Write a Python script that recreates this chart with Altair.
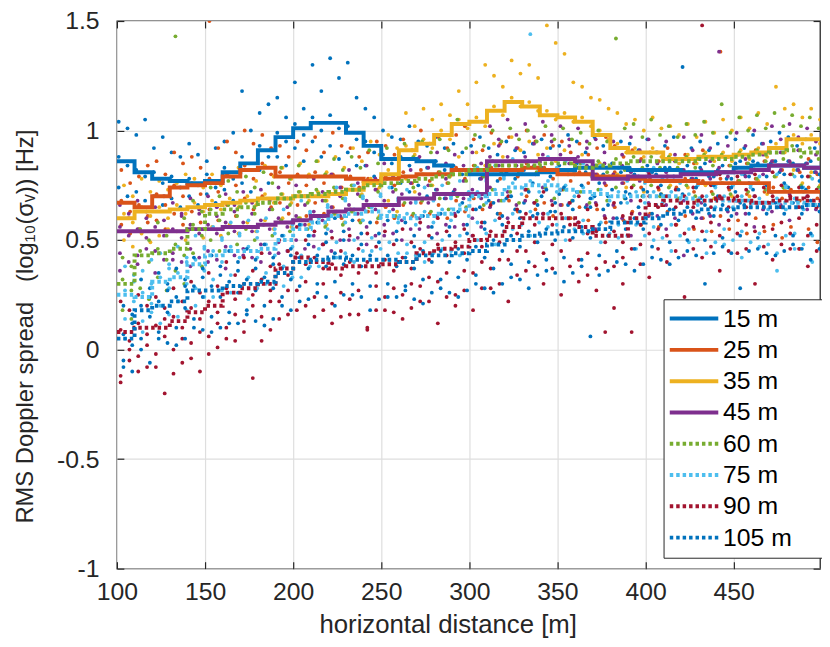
import altair as alt
import pandas as pd

SERIES = ["15 m", "25 m", "35 m", "45 m", "60 m", "75 m", "90 m", "105 m"]
COLORS = ["#0072BD", "#D95319", "#EDB120", "#7E2F8E", "#77AC30", "#4DBEEE", "#A2142F", "#0072BD"]
DASHES = [[1, 0]] * 4 + [[3.5, 3]] * 4

X_TICKS = [100, 150, 200, 250, 300, 350, 400, 450]
Y_TICKS = [-1, -0.5, 0, 0.5, 1, 1.5]

# step-line (binned) values, one per 10 m bin starting at 100 m
BIN_X = list(range(100, 500, 10))
X_END = 499
LINE_15 = [0.86, 0.81, 0.78, 0.77, 0.76, 0.77, 0.81, 0.85, 0.91, 0.97, 1.01, 1.035, 1.035, 0.99, 0.93, 0.87, 0.87, 0.86, 0.84, 0.82,
           0.80, 0.80, 0.80, 0.80, 0.81, 0.82, 0.83, 0.83, 0.83, 0.82, 0.82, 0.82, 0.81, 0.81, 0.81, 0.83, 0.84, 0.84, 0.84, 0.83]
LINE_25 = [0.67, 0.65, 0.70, 0.74, 0.75, 0.76, 0.79, 0.82, 0.83, 0.79, 0.79, 0.79, 0.79, 0.78, 0.77, 0.78, 0.79, 0.80, 0.80, 0.82,
           0.82, 0.82, 0.82, 0.83, 0.82, 0.80, 0.80, 0.79, 0.79, 0.78, 0.77, 0.77, 0.77, 0.76, 0.76, 0.76, 0.76, 0.72, 0.72, 0.72]
LINE_35 = [0.60, 0.63, 0.63, 0.64, 0.65, 0.66, 0.67, 0.68, 0.69, 0.69, 0.70, 0.70, 0.71, 0.73, 0.76, 0.80, 0.91, 0.94, 0.98, 1.03,
           1.04, 1.09, 1.13, 1.11, 1.07, 1.06, 1.04, 0.98, 0.92, 0.90, 0.90, 0.87, 0.87, 0.88, 0.88, 0.89, 0.90, 0.92, 0.96, 0.96]
LINE_45 = [0.54, 0.54, 0.54, 0.54, 0.55, 0.55, 0.56, 0.56, 0.57, 0.58, 0.59, 0.61, 0.63, 0.64, 0.66, 0.66, 0.69, 0.69, 0.71, 0.71,
           0.71, 0.86, 0.86, 0.86, 0.87, 0.87, 0.86, 0.78, 0.78, 0.79, 0.79, 0.79, 0.80, 0.80, 0.81, 0.81, 0.82, 0.84, 0.84, 0.83]
LINE_60 = [0.30, 0.43, 0.44, 0.46, 0.55, 0.62, 0.64, 0.65, 0.67, 0.69, 0.70, 0.71, 0.72, 0.73, 0.75, 0.76, 0.77, 0.78, 0.79, 0.80,
           0.82, 0.84, 0.84, 0.84, 0.85, 0.85, 0.83, 0.84, 0.85, 0.86, 0.86, 0.86, 0.86, 0.87, 0.87, 0.88, 0.89, 0.90, 0.91, 0.90]
LINE_75 = [0.25, 0.24, 0.31, 0.33, 0.39, 0.43, 0.45, 0.45, 0.46, 0.50, 0.55, 0.58, 0.61, 0.62, 0.63, 0.61, 0.60, 0.61, 0.62, 0.64,
           0.70, 0.71, 0.74, 0.75, 0.75, 0.73, 0.72, 0.71, 0.70, 0.70, 0.70, 0.70, 0.69, 0.68, 0.68, 0.68, 0.67, 0.67, 0.67, 0.66]
LINE_90 = [0.08, 0.10, 0.10, 0.13, 0.17, 0.20, 0.26, 0.28, 0.30, 0.37, 0.42, 0.40, 0.37, 0.38, 0.38, 0.39, 0.40, 0.44, 0.46, 0.47,
           0.50, 0.52, 0.56, 0.60, 0.60, 0.60, 0.56, 0.52, 0.52, 0.60, 0.66, 0.68, 0.67, 0.68, 0.69, 0.68, 0.67, 0.68, 0.69, 0.68]
LINE_105 = [0.05, 0.18, 0.20, 0.22, 0.27, 0.27, 0.29, 0.30, 0.31, 0.35, 0.40, 0.41, 0.42, 0.41, 0.41, 0.41, 0.40, 0.43, 0.43, 0.44,
            0.45, 0.48, 0.50, 0.52, 0.53, 0.54, 0.54, 0.55, 0.58, 0.58, 0.60, 0.62, 0.63, 0.64, 0.64, 0.65, 0.65, 0.65, 0.65, 0.66]

# scatter samples: columns every 5 m, several samples per column
SCATTER_X = list(range(101, 500, 5))
X_SHIFT = [0, 1.5, 3.0, 0.7, 2.2, 3.6, 1.1, 2.7]

HI_15 = [1.04, 1.01, 0.98, 1.05, 0.92, 0.97, 0.90, 0.88, 0.94, 0.89,
         0.86, 0.92, 0.95, 0.99, 1.18, 1.00, 1.08, 1.12, 1.15, 1.06,
         1.22, 1.10, 1.30, 1.18, 1.33, 1.24, 1.31, 1.15, 1.10, 1.06,
         1.00, 0.97, 0.96, 1.02, 0.95, 0.93, 0.97, 0.92, 0.94, 0.90,
         0.93, 0.97, 0.92, 0.89, 0.95, 0.91, 0.90, 0.94, 0.96, 0.92,
         0.93, 0.98, 0.95, 0.90, 0.97, 0.93, 0.92, 0.95, 0.94, 0.91,
         0.96, 0.90, 0.93, 0.97, 1.29, 0.92, 0.95, 0.91, 0.94, 0.97,
         0.96, 0.92, 0.98, 0.94, 0.95, 0.99, 0.97, 0.93, 0.96, 0.92]
MID_15 = [0.88, 0.84, 0.82, 0.79, 0.81, 0.76, 0.79, 0.74, 0.78, 0.75,
          0.80, 0.74, 0.83, 0.78, 0.88, 0.82, 0.93, 0.88, 0.99, 0.95,
          1.03, 0.98, 1.06, 1.00, 1.07, 1.01, 1.02, 0.96, 0.95, 0.90,
          0.89, 0.85, 0.88, 0.84, 0.87, 0.83, 0.86, 0.82, 0.84, 0.80,
          0.82, 0.78, 0.83, 0.77, 0.81, 0.78, 0.82, 0.76, 0.83, 0.79,
          0.84, 0.80, 0.85, 0.81, 0.84, 0.80, 0.85, 0.81, 0.83, 0.79,
          0.84, 0.80, 0.83, 0.79, 0.82, 0.78, 0.83, 0.79, 0.82, 0.78,
          0.85, 0.80, 0.86, 0.82, 0.85, 0.81, 0.86, 0.82, 0.85, 0.81]
LO_15 = [0.74, 0.70, 0.72, 0.68, 0.70, 0.66, 0.69, 0.65, 0.70, 0.66,
         0.71, 0.67, 0.73, 0.68, 0.76, 0.72, 0.82, 0.76, 0.88, 0.84,
         0.92, 0.86, 0.95, 0.88, 0.93, 0.87, 0.90, 0.84, 0.84, 0.79,
         0.78, 0.74, 0.76, 0.72, 0.75, 0.70, 0.73, 0.69, 0.72, 0.67,
         0.70, 0.65, 0.68, 0.62, 0.69, 0.64, 0.67, 0.61, 0.70, 0.63,
         0.71, 0.66, 0.72, 0.65, 0.70, 0.64, 0.73, 0.67, 0.71, 0.65,
         0.72, 0.66, 0.70, 0.64, 0.71, 0.63, 0.69, 0.62, 0.70, 0.64,
         0.72, 0.66, 0.73, 0.67, 0.72, 0.65, 0.74, 0.68, 0.73, 0.66]

HI_25 = [0.82, 0.76, 0.79, 0.84, 0.86, 0.80, 0.90, 0.85, 0.88, 0.83,
         1.50, 0.92, 0.95, 0.90, 1.00, 0.94, 0.98, 0.92, 0.93, 0.88,
         0.95, 0.91, 0.97, 0.90, 0.99, 0.93, 0.92, 0.88, 0.90, 0.95,
         0.93, 0.89, 0.96, 0.91, 1.00, 0.94, 0.97, 0.92, 0.98, 1.02,
         0.96, 0.91, 0.99, 0.94, 0.97, 0.92, 1.00, 0.95, 0.98, 0.93,
         0.95, 0.90, 0.94, 0.89, 0.92, 0.97, 0.93, 0.88, 0.91, 0.87,
         0.90, 0.86, 0.92, 0.87, 0.89, 0.85, 0.91, 0.88, 1.36, 0.84,
         0.89, 0.85, 0.91, 0.86, 0.86, 0.82, 0.85, 0.81, 0.87, 0.80]
MID_25 = [0.68, 0.63, 0.66, 0.61, 0.71, 0.66, 0.75, 0.70, 0.76, 0.71,
          0.78, 0.72, 0.80, 0.75, 0.84, 0.78, 0.85, 0.80, 0.81, 0.76,
          0.80, 0.75, 0.81, 0.76, 0.80, 0.74, 0.79, 0.74, 0.78, 0.73,
          0.79, 0.75, 0.81, 0.76, 0.82, 0.77, 0.81, 0.76, 0.83, 0.78,
          0.84, 0.79, 0.83, 0.78, 0.84, 0.79, 0.85, 0.80, 0.83, 0.78,
          0.82, 0.77, 0.81, 0.76, 0.80, 0.75, 0.81, 0.76, 0.79, 0.74,
          0.78, 0.73, 0.79, 0.74, 0.78, 0.72, 0.77, 0.72, 0.78, 0.73,
          0.77, 0.71, 0.78, 0.72, 0.74, 0.69, 0.73, 0.68, 0.74, 0.69]
LO_25 = [0.57, 0.53, 0.55, 0.58, 0.59, 0.55, 0.62, 0.57, 0.63, 0.58,
         0.64, 0.59, 0.66, 0.61, 0.69, 0.64, 0.70, 0.65, 0.67, 0.62,
         0.66, 0.61, 0.67, 0.62, 0.65, 0.60, 0.64, 0.59, 0.63, 0.58,
         0.65, 0.60, 0.66, 0.61, 0.67, 0.62, 0.66, 0.60, 0.68, 0.63,
         0.69, 0.64, 0.67, 0.62, 0.68, 0.63, 0.70, 0.64, 0.67, 0.61,
         0.66, 0.60, 0.65, 0.59, 0.64, 0.58, 0.65, 0.59, 0.63, 0.57,
         0.62, 0.56, 0.63, 0.57, 0.61, 0.55, 0.60, 0.54, 0.61, 0.55,
         0.59, 0.53, 0.60, 0.54, 0.57, 0.51, 0.56, 0.46, 0.55, 0.49]

HI_35 = [0.75, 0.70, 0.78, 0.72, 0.77, 0.73, 0.76, 0.80, 0.78, 0.74,
         0.80, 0.75, 0.79, 0.83, 0.82, 0.77, 0.84, 0.79, 0.83, 0.78,
         0.85, 0.80, 0.86, 0.81, 0.88, 0.83, 0.92, 0.86, 0.95, 0.89,
         0.98, 0.92, 1.08, 1.02, 1.10, 1.05, 1.12, 1.07, 1.18, 1.12,
         1.22, 1.30, 1.25, 1.20, 1.32, 1.26, 1.30, 1.24, 1.48, 1.40,
         1.35, 1.22, 1.20, 1.15, 1.14, 1.10, 1.08, 1.03, 1.05, 1.00,
         1.06, 1.01, 1.02, 0.98, 1.03, 0.97, 1.04, 0.99, 1.05, 1.00,
         1.06, 1.01, 1.08, 1.03, 1.20, 1.10, 1.12, 1.06, 1.10, 1.05]
MID_35 = [0.62, 0.58, 0.65, 0.61, 0.65, 0.60, 0.66, 0.62, 0.67, 0.63,
          0.68, 0.64, 0.69, 0.65, 0.70, 0.66, 0.71, 0.67, 0.71, 0.67,
          0.72, 0.68, 0.72, 0.68, 0.73, 0.69, 0.75, 0.71, 0.78, 0.74,
          0.82, 0.78, 0.93, 0.89, 0.96, 0.92, 1.00, 0.96, 1.05, 1.01,
          1.06, 1.02, 1.11, 1.07, 1.15, 1.11, 1.13, 1.09, 1.09, 1.05,
          1.08, 1.04, 1.06, 1.02, 1.00, 0.96, 0.94, 0.90, 0.92, 0.88,
          0.92, 0.88, 0.89, 0.85, 0.89, 0.85, 0.90, 0.86, 0.90, 0.86,
          0.91, 0.87, 0.92, 0.88, 0.94, 0.90, 0.98, 0.94, 0.98, 0.94]
LO_35 = [0.50, 0.47, 0.53, 0.49, 0.52, 0.55, 0.54, 0.50, 0.55, 0.51,
         0.56, 0.52, 0.57, 0.53, 0.58, 0.54, 0.59, 0.55, 0.60, 0.56,
         0.60, 0.57, 0.61, 0.57, 0.62, 0.58, 0.63, 0.59, 0.65, 0.61,
         0.68, 0.63, 0.78, 0.72, 0.80, 0.75, 0.84, 0.79, 0.88, 0.82,
         0.90, 0.84, 0.94, 0.88, 0.97, 0.91, 0.95, 0.89, 0.92, 0.86,
         0.91, 0.85, 0.89, 0.83, 0.85, 0.79, 0.80, 0.74, 0.78, 0.72,
         0.77, 0.71, 0.75, 0.69, 0.74, 0.68, 0.75, 0.69, 0.76, 0.70,
         0.76, 0.70, 0.77, 0.71, 0.79, 0.73, 0.82, 0.76, 0.81, 0.75]

HI_45 = [0.66, 0.62, 0.68, 0.63, 0.65, 0.70, 0.67, 0.62, 0.69, 0.64,
         0.70, 0.65, 0.71, 0.66, 0.72, 0.67, 0.73, 0.68, 0.74, 0.69,
         0.75, 0.70, 0.78, 0.72, 0.80, 0.74, 0.82, 0.76, 0.84, 0.78,
         0.85, 0.79, 0.87, 0.82, 0.88, 0.83, 0.90, 0.85, 0.89, 0.84,
         0.90, 0.85, 1.02, 0.96, 1.05, 0.98, 1.03, 0.97, 1.04, 0.98,
         1.02, 0.96, 1.01, 0.95, 0.96, 0.90, 0.95, 0.89, 0.97, 0.91,
         0.96, 0.90, 0.95, 0.89, 0.97, 0.91, 0.98, 0.92, 1.36, 0.93,
         0.99, 0.93, 1.00, 0.94, 1.02, 0.96, 1.03, 0.97, 1.01, 0.95]
MID_45 = [0.56, 0.52, 0.55, 0.51, 0.56, 0.52, 0.55, 0.51, 0.57, 0.53,
          0.57, 0.53, 0.58, 0.54, 0.58, 0.54, 0.59, 0.55, 0.60, 0.56,
          0.61, 0.57, 0.63, 0.59, 0.65, 0.61, 0.66, 0.62, 0.68, 0.64,
          0.68, 0.64, 0.71, 0.67, 0.71, 0.67, 0.73, 0.69, 0.73, 0.69,
          0.73, 0.69, 0.88, 0.84, 0.88, 0.84, 0.88, 0.84, 0.89, 0.85,
          0.89, 0.85, 0.88, 0.84, 0.80, 0.76, 0.80, 0.76, 0.81, 0.77,
          0.81, 0.77, 0.81, 0.77, 0.82, 0.78, 0.82, 0.78, 0.83, 0.79,
          0.83, 0.79, 0.84, 0.80, 0.86, 0.82, 0.86, 0.82, 0.85, 0.81]
LO_45 = [0.44, 0.40, 0.43, 0.46, 0.45, 0.41, 0.44, 0.40, 0.46, 0.42,
         0.45, 0.41, 0.47, 0.43, 0.46, 0.42, 0.48, 0.44, 0.49, 0.45,
         0.50, 0.46, 0.52, 0.48, 0.54, 0.50, 0.55, 0.51, 0.56, 0.52,
         0.57, 0.53, 0.59, 0.55, 0.60, 0.56, 0.61, 0.57, 0.62, 0.57,
         0.60, 0.56, 0.74, 0.68, 0.72, 0.66, 0.73, 0.67, 0.74, 0.68,
         0.73, 0.67, 0.72, 0.66, 0.67, 0.61, 0.66, 0.60, 0.68, 0.62,
         0.67, 0.61, 0.66, 0.60, 0.68, 0.62, 0.67, 0.61, 0.69, 0.63,
         0.68, 0.62, 0.70, 0.64, 0.72, 0.66, 0.71, 0.65, 0.70, 0.64]
EX_45 = [0.36, 0.60, 0.39, 0.60, 0.35, 0.59, 0.41, 0.61, 0.38, 0.62,
         0.40, 0.61, 0.37, 0.63, 0.43, 0.62, 0.40, 0.64, 0.44, 0.65,
         0.42, 0.66, 0.47, 0.68, 0.45, 0.70, 0.50, 0.71, 0.48, 0.73,
         0.52, 0.72, 0.50, 0.76, 0.55, 0.75, 0.53, 0.78, 0.56, 0.77,
         0.52, 0.78, 0.65, 0.93, 0.60, 0.92, 0.68, 0.94, 0.62, 0.95,
         0.66, 0.93, 0.58, 0.92, 0.55, 0.85, 0.60, 0.84, 0.52, 0.86,
         0.61, 0.85, 0.55, 0.86, 0.43, 0.87, 0.60, 0.86, 0.57, 0.88,
         0.62, 0.87, 0.56, 0.89, 0.63, 0.90, 0.59, 0.91, 0.64, 0.89]

HI_60 = [0.42, 0.38, 0.55, 0.50, 0.58, 0.52, 1.43, 0.60, 0.68, 0.63,
         0.74, 0.70, 0.77, 0.72, 0.79, 0.74, 0.81, 0.76, 0.83, 0.78,
         0.84, 0.79, 0.86, 0.80, 0.87, 0.82, 0.88, 0.83, 0.91, 0.85,
         0.92, 0.87, 0.94, 0.88, 0.95, 0.90, 0.96, 0.91, 1.05, 0.92,
         0.98, 0.93, 1.00, 0.95, 1.01, 0.96, 1.00, 0.95, 1.02, 0.96,
         1.01, 0.96, 0.99, 0.94, 1.00, 0.95, 1.42, 1.01, 1.03, 0.97,
         1.05, 0.98, 1.02, 0.97, 1.03, 0.98, 1.04, 0.99, 1.12, 0.99,
         1.06, 1.00, 1.07, 1.01, 1.08, 1.02, 1.07, 1.02, 1.06, 1.01]
MID_60 = [0.32, 0.27, 0.45, 0.40, 0.46, 0.41, 0.48, 0.43, 0.57, 0.52,
          0.64, 0.59, 0.66, 0.61, 0.67, 0.62, 0.69, 0.64, 0.71, 0.66,
          0.72, 0.67, 0.73, 0.68, 0.74, 0.69, 0.75, 0.70, 0.77, 0.72,
          0.78, 0.73, 0.79, 0.74, 0.80, 0.75, 0.81, 0.76, 0.82, 0.77,
          0.84, 0.79, 0.86, 0.81, 0.86, 0.81, 0.86, 0.81, 0.87, 0.82,
          0.87, 0.82, 0.85, 0.80, 0.86, 0.81, 0.87, 0.82, 0.88, 0.83,
          0.88, 0.83, 0.88, 0.83, 0.88, 0.83, 0.89, 0.84, 0.89, 0.84,
          0.90, 0.85, 0.91, 0.86, 0.92, 0.87, 0.93, 0.88, 0.92, 0.87]
LO_60 = [0.18, 0.14, 0.28, 0.23, 0.33, 0.27, 0.36, 0.30, 0.44, 0.38,
         0.50, 0.45, 0.53, 0.48, 0.55, 0.50, 0.57, 0.52, 0.59, 0.54,
         0.60, 0.55, 0.61, 0.56, 0.62, 0.57, 0.63, 0.58, 0.65, 0.60,
         0.66, 0.61, 0.67, 0.62, 0.68, 0.63, 0.69, 0.64, 0.70, 0.65,
         0.71, 0.66, 0.73, 0.68, 0.72, 0.67, 0.73, 0.68, 0.74, 0.69,
         0.73, 0.68, 0.72, 0.67, 0.73, 0.68, 0.74, 0.69, 0.75, 0.70,
         0.75, 0.70, 0.74, 0.69, 0.75, 0.70, 0.76, 0.71, 0.76, 0.71,
         0.77, 0.72, 0.78, 0.73, 0.79, 0.74, 0.80, 0.75, 0.79, 0.74]

HI_75 = [0.38, 0.34, 0.36, 0.41, 0.44, 0.39, 0.47, 0.42, 0.52, 0.47,
         0.56, 0.51, 0.58, 0.53, 0.59, 0.54, 0.60, 0.55, 0.64, 0.59,
         0.68, 0.63, 0.71, 0.66, 0.74, 0.69, 0.75, 0.70, 0.76, 0.71,
         0.74, 0.69, 0.73, 0.68, 0.74, 0.69, 0.75, 0.70, 0.77, 0.72,
         0.83, 0.78, 0.84, 0.79, 0.87, 0.82, 1.44, 0.83, 0.88, 0.83,
         0.86, 0.81, 0.85, 0.80, 0.84, 0.79, 0.83, 0.78, 0.82, 0.77,
         0.83, 0.78, 0.82, 0.77, 0.81, 0.76, 0.80, 0.75, 0.81, 0.76,
         0.80, 0.75, 0.79, 0.74, 0.80, 0.75, 0.79, 0.74, 0.78, 0.73]
MID_75 = [0.27, 0.22, 0.26, 0.21, 0.33, 0.28, 0.35, 0.30, 0.41, 0.36,
          0.45, 0.40, 0.47, 0.42, 0.47, 0.42, 0.48, 0.43, 0.52, 0.47,
          0.57, 0.52, 0.60, 0.55, 0.63, 0.58, 0.64, 0.59, 0.65, 0.60,
          0.63, 0.58, 0.62, 0.57, 0.63, 0.58, 0.64, 0.59, 0.66, 0.61,
          0.72, 0.67, 0.73, 0.68, 0.76, 0.71, 0.77, 0.72, 0.77, 0.72,
          0.75, 0.70, 0.74, 0.69, 0.73, 0.68, 0.72, 0.67, 0.72, 0.67,
          0.72, 0.67, 0.72, 0.67, 0.71, 0.66, 0.70, 0.65, 0.70, 0.65,
          0.70, 0.65, 0.69, 0.64, 0.69, 0.64, 0.69, 0.64, 0.68, 0.63]
LO_75 = [0.14, 0.10, 0.13, 0.17, 0.20, 0.16, 0.22, 0.18, 0.28, 0.24,
         0.32, 0.27, 0.34, 0.29, 0.33, 0.28, 0.35, 0.30, 0.38, 0.33,
         0.43, 0.38, 0.46, 0.41, 0.49, 0.44, 0.50, 0.45, 0.51, 0.46,
         0.49, 0.44, 0.48, 0.43, 0.49, 0.44, 0.50, 0.45, 0.52, 0.47,
         0.58, 0.53, 0.59, 0.54, 0.62, 0.57, 0.63, 0.58, 0.62, 0.57,
         0.60, 0.55, 0.59, 0.54, 0.58, 0.53, 0.57, 0.52, 0.57, 0.52,
         0.56, 0.51, 0.57, 0.52, 0.55, 0.50, 0.54, 0.49, 0.55, 0.50,
         0.54, 0.49, 0.53, 0.48, 0.44, 0.52, 0.53, 0.48, 0.52, 0.47]
EX_75 = [0.05, 0.31, 0.08, 0.30, 0.12, 0.37, 0.15, 0.40, 0.20, 0.46,
         0.24, 0.50, 0.26, 0.52, 0.23, 0.51, 0.30, 0.53, 0.29, 0.57,
         0.33, 0.62, 0.38, 0.65, 0.42, 0.68, 0.40, 0.69, 0.45, 0.70,
         0.41, 0.68, 0.44, 0.67, 0.40, 0.68, 0.46, 0.69, 0.43, 0.71,
         0.50, 0.77, 0.48, 0.78, 0.55, 0.81, 0.52, 0.82, 0.56, 0.81,
         0.50, 0.80, 0.53, 0.79, 0.49, 0.78, 0.51, 0.77, 0.46, 0.76,
         0.50, 0.77, 0.45, 0.76, 0.49, 0.75, 0.44, 0.74, 0.48, 0.75,
         0.42, 0.74, 0.47, 0.73, 0.36, 0.74, 0.46, 0.72, 0.40, 0.72]

HI_90 = [0.22, 0.18, 0.25, 0.20, 0.24, 0.19, 0.28, 0.22, 0.31, 0.26,
         0.35, 0.29, 0.40, 0.34, 0.42, 0.36, 0.44, 0.38, 0.50, 0.45,
         0.56, 0.50, 0.54, 0.48, 0.51, 0.45, 0.52, 0.46, 0.53, 0.47,
         0.54, 0.48, 0.55, 0.49, 0.58, 0.52, 0.60, 0.54, 0.61, 0.55,
         0.64, 0.58, 0.66, 0.60, 0.70, 0.64, 0.73, 0.67, 0.72, 0.66,
         0.73, 0.67, 0.70, 0.64, 0.66, 0.60, 0.67, 0.61, 0.74, 0.68,
         0.80, 0.74, 0.79, 0.73, 0.80, 0.74, 1.48, 0.75, 0.80, 0.74,
         0.79, 0.73, 0.80, 0.74, 0.81, 0.75, 0.80, 0.74, 0.79, 0.73]
MID_90 = [0.09, 0.04, 0.12, 0.07, 0.11, 0.06, 0.15, 0.10, 0.19, 0.14,
          0.22, 0.17, 0.28, 0.23, 0.30, 0.25, 0.32, 0.27, 0.39, 0.34,
          0.44, 0.39, 0.42, 0.37, 0.39, 0.34, 0.40, 0.35, 0.40, 0.35,
          0.41, 0.36, 0.42, 0.37, 0.46, 0.41, 0.48, 0.43, 0.49, 0.44,
          0.52, 0.47, 0.54, 0.49, 0.58, 0.53, 0.62, 0.57, 0.62, 0.57,
          0.62, 0.57, 0.58, 0.53, 0.54, 0.49, 0.54, 0.49, 0.62, 0.57,
          0.70, 0.65, 0.70, 0.65, 0.70, 0.65, 0.70, 0.65, 0.70, 0.65,
          0.70, 0.65, 0.70, 0.65, 0.70, 0.65, 0.70, 0.65, 0.70, 0.65]
LO_90 = [-0.12, -0.05, -0.03, -0.08, -0.02, -0.20, 0.00, -0.06, 0.03, -0.10,
         0.06, 0.01, 0.10, 0.04, 0.13, -0.13, 0.15, 0.09, 0.22, 0.16,
         0.27, 0.20, 0.24, 0.18, 0.21, 0.15, 0.23, 0.16, 0.10, 0.18,
         0.24, 0.17, 0.25, 0.19, 0.29, 0.22, 0.31, 0.24, 0.20, 0.27,
         0.35, 0.28, 0.37, 0.30, 0.41, 0.34, 0.45, 0.38, 0.44, 0.37,
         0.45, 0.38, 0.41, 0.34, 0.37, 0.08, 0.38, 0.30, 0.46, 0.39,
         0.53, 0.46, 0.52, 0.45, 0.53, 0.46, 0.54, 0.47, 0.52, 0.45,
         0.53, 0.46, 0.54, 0.47, 0.55, 0.48, 0.53, 0.46, 0.52, 0.45]
EX_90 = [-0.15, 0.00, -0.10, 0.02, -0.08, 0.14, -0.11, 0.05, -0.04, 0.08,
         -0.02, 0.12, 0.05, 0.16, 0.08, 0.20, 0.04, 0.22, 0.14, 0.27,
         0.18, 0.31, 0.15, 0.30, 0.12, 0.26, 0.16, 0.27, 0.09, 0.29,
         0.18, 0.28, 0.14, 0.30, 0.22, 0.33, 0.12, 0.35, 0.25, 0.36,
         0.18, 0.40, 0.28, 0.41, 0.22, 0.45, 0.36, 0.49, 0.30, 0.48,
         0.25, 0.50, 0.31, 0.44, 0.27, 0.40, 0.19, 0.42, 0.08, 0.48,
         0.33, 0.55, 0.40, 0.57, 0.24, 0.56, 0.42, 0.58, 0.36, 0.59,
         0.44, 0.57, 0.30, 0.56, 0.41, 0.58, 0.46, 0.60, 0.38, 0.57]

HI_105 = [0.20, 0.16, 0.32, 0.28, 0.35, 0.30, 0.37, 0.32, 0.42, 0.37,
          0.43, 0.38, 0.45, 0.40, 0.46, 0.41, 0.48, 0.42, 0.52, 0.46,
          0.57, 0.52, 0.58, 0.53, 0.60, 0.54, 0.59, 0.53, 0.58, 0.53,
          0.59, 0.54, 0.58, 0.52, 0.61, 0.56, 0.62, 0.56, 0.63, 0.57,
          0.64, 0.58, 0.67, 0.61, 0.70, 0.63, 0.72, 0.66, 0.73, 0.67,
          0.74, 0.68, 0.75, 0.69, 0.76, 0.70, 0.79, 0.72, 0.80, 0.73,
          0.81, 0.75, 0.83, 0.77, 0.84, 0.78, 0.85, 0.79, 0.84, 0.78,
          0.86, 0.79, 0.85, 0.79, 0.86, 0.80, 0.85, 0.79, 0.86, 0.80]
MID_105 = [0.07, 0.02, 0.20, 0.15, 0.22, 0.17, 0.24, 0.19, 0.29, 0.24,
           0.29, 0.24, 0.31, 0.26, 0.32, 0.27, 0.33, 0.28, 0.37, 0.32,
           0.42, 0.37, 0.43, 0.38, 0.44, 0.39, 0.43, 0.38, 0.43, 0.38,
           0.43, 0.38, 0.42, 0.37, 0.45, 0.40, 0.45, 0.40, 0.46, 0.41,
           0.47, 0.42, 0.50, 0.45, 0.52, 0.47, 0.54, 0.49, 0.55, 0.50,
           0.56, 0.51, 0.56, 0.51, 0.57, 0.52, 0.60, 0.55, 0.60, 0.55,
           0.62, 0.57, 0.64, 0.59, 0.65, 0.60, 0.66, 0.61, 0.66, 0.61,
           0.67, 0.62, 0.67, 0.62, 0.67, 0.62, 0.67, 0.62, 0.68, 0.63]
LO_105 = [-0.05, -0.10, 0.05, -0.06, 0.08, 0.03, 0.10, 0.05, 0.14, 0.09,
          0.15, 0.10, 0.17, 0.12, 0.18, 0.13, 0.20, 0.14, 0.24, 0.18,
          0.29, 0.23, 0.30, 0.24, 0.31, 0.25, 0.30, 0.24, 0.29, 0.23,
          0.30, 0.24, 0.29, 0.23, 0.32, 0.26, 0.32, 0.26, 0.33, 0.27,
          0.34, 0.28, 0.37, 0.30, 0.39, 0.32, 0.40, 0.34, 0.41, 0.35,
          0.42, 0.35, 0.41, 0.06, 0.43, 0.36, 0.45, 0.39, 0.46, 0.39,
          0.47, 0.41, 0.49, 0.42, 0.50, 0.43, 0.50, 0.44, 0.51, 0.44,
          0.52, 0.45, 0.51, 0.44, 0.52, 0.45, 0.52, 0.46, 0.53, 0.46]
EX_105 = [-0.08, 0.12, 0.00, 0.24, 0.05, 0.27, 0.02, 0.29, 0.10, 0.33,
          0.08, 0.34, 0.12, 0.36, 0.16, 0.37, 0.11, 0.39, 0.20, 0.43,
          0.22, 0.48, 0.26, 0.49, 0.20, 0.50, 0.25, 0.48, 0.18, 0.49,
          0.24, 0.50, 0.27, 0.47, 0.21, 0.51, 0.28, 0.52, 0.24, 0.53,
          0.30, 0.55, 0.26, 0.57, 0.33, 0.60, 0.28, 0.62, 0.36, 0.63,
          0.31, 0.64, 0.38, 0.65, 0.34, 0.66, 0.40, 0.69, 0.36, 0.70,
          0.42, 0.71, 0.39, 0.73, 0.45, 0.74, 0.30, 0.75, 0.47, 0.74,
          0.28, 0.76, 0.46, 0.75, 0.43, 0.76, 0.48, 0.74, 0.41, 0.77]

LINES = [LINE_15, LINE_25, LINE_35, LINE_45, LINE_60, LINE_75, LINE_90, LINE_105]
SCATTER = [
    (HI_15, MID_15, LO_15), (HI_25, MID_25, LO_25), (HI_35, MID_35, LO_35), (HI_45, MID_45, LO_45, EX_45),
    (HI_60, MID_60, LO_60), (HI_75, MID_75, LO_75, EX_75), (HI_90, MID_90, LO_90, EX_90),
    (HI_105, MID_105, LO_105, EX_105),
]

point_rows = []
for s, colour, shift, lists in zip(SERIES, COLORS, X_SHIFT, SCATTER):
    for vals in lists:
        for x, v in zip(SCATTER_X, vals):
            point_rows.append({"x": x + shift, "y": v, "series": s, "colour": colour})
points_df = pd.DataFrame(point_rows)

line_rows = []
for s, vals in zip(SERIES, LINES):
    for x, v in zip(BIN_X, vals):
        line_rows.append({"x": x, "y": v, "series": s})
    line_rows.append({"x": X_END, "y": vals[-1], "series": s})
lines_df = pd.DataFrame(line_rows)

INK = "#262626"
x_scale = alt.Scale(domain=[100, 499], nice=False, zero=False)
y_scale = alt.Scale(domain=[-1, 1.5], nice=False, zero=False)

main_x_axis = alt.Axis(
    values=X_TICKS, grid=True, gridColor="#dedede", gridWidth=1.2, ticks=False, tickSize=0,
    domain=False, labelFontSize=25, labelColor=INK, labelPadding=11, labelFlush=False,
    title="horizontal distance [m]", titleFontSize=26, titleFontWeight="normal", titleColor=INK,
    titleX=334, titleY=43, titleAlign="center", titleBaseline="top",
)
main_y_axis = alt.Axis(
    values=Y_TICKS, grid=True, gridColor="#dedede", gridWidth=1.2, ticks=False, tickSize=0,
    domain=False, labelFontSize=25, labelColor=INK, labelPadding=18, labelFlush=False,
    labelExpr="'' + datum.value",
    title="RMS Doppler spread\u00a0\u00a0\u00a0(log\u2081\u2080(\u03c3\u1d65)) [Hz]",
    titleFontSize=24, titleFontWeight="normal", titleColor=INK,
    titleX=-80, titleY=507, titleAngle=-90, titleAlign="left", titleBaseline="bottom",
)


def tick_axis(orient, values):
    return alt.Axis(orient=orient, values=values, grid=False, labels=False, domain=False,
                    ticks=True, tickSize=7, tickColor=INK, tickWidth=1.2, offset=-7, title=None)


points = alt.Chart(points_df).mark_circle(size=15, opacity=1, clip=True).encode(
    x=alt.X("x:Q", scale=x_scale, axis=main_x_axis),
    y=alt.Y("y:Q", scale=y_scale, axis=main_y_axis),
    fill=alt.Fill("colour:N", scale=None),
)

legend = alt.Legend(
    title=None, orient="none", legendX=552, legendY=281,
    symbolType="M-1.35,0L3.65,0", symbolSize=384, symbolStrokeWidth=4,
    labelFontSize=25, labelColor="black", labelOffset=28, rowPadding=5.6, padding=7,
    strokeColor=INK, fillColor="white", labelExpr="datum.label + '\u00a0\u2800'",
)

lines = alt.Chart(lines_df).mark_line(interpolate="step-after", strokeWidth=4, clip=True, strokeCap="butt").encode(
    x=alt.X("x:Q", scale=x_scale, axis=tick_axis("bottom", X_TICKS)),
    y=alt.Y("y:Q", scale=y_scale, axis=tick_axis("left", Y_TICKS)),
    color=alt.Color("series:N", scale=alt.Scale(domain=SERIES, range=COLORS), legend=legend, sort=SERIES),
    strokeDash=alt.StrokeDash("series:N", scale=alt.Scale(domain=SERIES, range=DASHES), legend=legend, sort=SERIES),
)

ghost = alt.Chart(lines_df).mark_point(opacity=0, clip=True).encode(
    x=alt.X("x:Q", scale=x_scale, axis=tick_axis("top", X_TICKS)),
    y=alt.Y("y:Q", scale=y_scale, axis=tick_axis("right", Y_TICKS)),
)

chart = alt.layer(points, lines, ghost).resolve_axis(
    x="independent", y="independent"
).properties(
    width=710, height=553,
    autosize=alt.AutoSizeParams(type="none"),
    padding={"left": 110, "top": 10, "right": 2, "bottom": 76},
).configure(
    font="Liberation Sans"
).configure_view(
    stroke=INK, strokeWidth=1.3
)

chart.save("out.html", embed_options={"renderer": "svg", "actions": False})
